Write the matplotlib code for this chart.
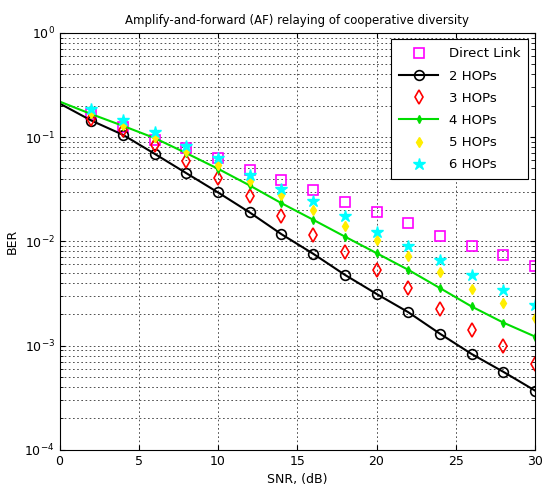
import matplotlib
matplotlib.use("Agg")
import matplotlib.pyplot as plt
from matplotlib.ticker import LogLocator, NullFormatter

# SNR points (dB)
snr = [2, 4, 6, 8, 10, 12, 14, 16, 18, 20, 22, 24, 26, 28, 30]
snr_line = [0] + snr

direct_link = [0.165, 0.125, 0.094, 0.078, 0.063, 0.0485, 0.0389, 0.0312, 0.0236,
               0.0189, 0.0151, 0.0113, 0.00905, 0.0074, 0.00582]
hop2 = [0.21, 0.144, 0.105, 0.069, 0.045, 0.0294, 0.0189, 0.0117, 0.0076, 0.00477,
        0.00313, 0.00209, 0.0013, 0.00083, 0.00056, 0.00037]
hop3 = [0.150, 0.117, 0.0843, 0.0583, 0.0404, 0.0269, 0.0176, 0.0115, 0.00798,
        0.00533, 0.00356, 0.00224, 0.00142, 0.0010, 0.00067]
hop4 = [0.219, 0.166, 0.128, 0.0977, 0.070, 0.0496, 0.0343, 0.0232, 0.0161, 0.0111,
        0.0077, 0.00533, 0.00356, 0.00237, 0.00166, 0.00122]
hop5 = [0.17, 0.13, 0.10, 0.0727, 0.0542, 0.0375, 0.028, 0.020, 0.0141, 0.0102,
        0.00715, 0.00513, 0.00348, 0.00255, 0.00183]
hop6 = [0.185, 0.146, 0.113, 0.0824, 0.0628, 0.0434, 0.0316, 0.0241, 0.0176,
        0.0124, 0.00905, 0.00665, 0.00477, 0.00343, 0.00246]

fig = plt.figure(figsize=(5.42, 4.97), dpi=100)
ax = fig.add_axes([0.11, 0.095, 0.877, 0.839])

ax.semilogy(snr, direct_link, "s", color="magenta", mfc="none", mew=1.2, ms=7,
            label="Direct Link")
ax.semilogy(snr_line, hop2, "o-", color="black", mfc="none", mew=1.2, ms=7, lw=1.5,
            markevery=slice(1, None), label="2 HOPs")
ax.semilogy(snr, hop3, "d", color="red", mfc="none", mew=1.2, ms=7, label="3 HOPs")
ax.semilogy(snr_line, hop4, "d-", color="#00dd00", ms=4, lw=1.5,
            markevery=slice(1, None), label="4 HOPs")
ax.semilogy(snr, hop5, "d", color="#ffee00", ms=5, label="5 HOPs")
ax.semilogy(snr, hop6, "*", color="cyan", ms=9, label="6 HOPs")

ax.set_xlim(0, 30)
ax.set_ylim(1e-4, 1)
ax.set_xticks(range(0, 31, 5))
ax.yaxis.set_major_locator(LogLocator(base=10, numticks=10))
ax.yaxis.set_minor_locator(LogLocator(base=10, subs=range(2, 10), numticks=20))
ax.yaxis.set_minor_formatter(NullFormatter())
ax.tick_params(direction="in", which="both", top=True, right=True, labelsize=9)
ax.grid(True, which="major", linestyle=(0, (2, 3)), color="#333333", lw=0.6)
ax.grid(True, which="minor", axis="y", linestyle=(0, (2, 3)), color="#333333", lw=0.6)

ax.set_xlabel("SNR, (dB)", fontsize=9)
ax.set_ylabel("BER", fontsize=9)
ax.set_title("Amplify-and-forward (AF) relaying of cooperative diversity", fontsize=8.5)

leg = ax.legend(loc="upper right", fontsize=9.5, fancybox=False, edgecolor="black",
                framealpha=1, borderaxespad=0.5, labelspacing=0.7,
                handlelength=3.0, borderpad=0.6)
leg.get_frame().set_linewidth(0.8)

fig.savefig("out.png", dpi=100)
